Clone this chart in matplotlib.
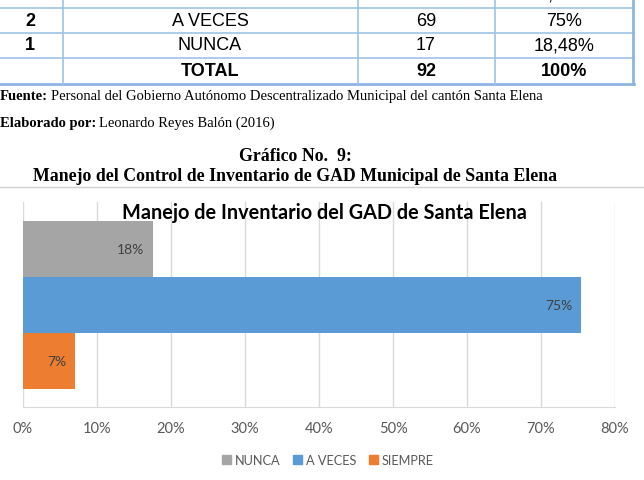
import matplotlib
matplotlib.use("Agg")
import matplotlib.pyplot as plt
from matplotlib.lines import Line2D
import matplotlib.patches as mpatches

W, H = 644, 481

# table (top rows cut off in the screenshot)
row_nums = ["3", "2", "1", ""]
row_cats = ["SIEMPRE", "A VECES", "NUNCA", "TOTAL"]
row_freq = ["6", "69", "17", "92"]
row_pct = ["6,52%", "75%", "18,48%", "100%"]

# chart series
series = ["NUNCA", "A VECES", "SIEMPRE"]
values = [17.5, 75.4, 7.0]
colors = ["#a5a5a5", "#5b9bd5", "#ed7d31"]
xticks = [0, 10, 20, 30, 40, 50, 60, 70, 80]

SANS = "Liberation Sans"
SERIF = "Liberation Serif"
CHART = "Lato"
LINE = "#9dc3e6"


def fx(x):
    return x / W


def fy(y):
    return 1 - y / H


fig = plt.figure(figsize=(W / 100, H / 100), dpi=100)

# --- table ---
row_y = [-5, 21, 46, 72]
col_x = [30, 210, 426, 564]
for i in range(len(row_cats)):
    bold = i == len(row_cats) - 1
    fig.text(fx(col_x[0]), fy(row_y[i]), row_nums[i], ha="center", va="center",
             family=SANS, fontsize=13, fontweight="bold")
    for j, cell in enumerate([row_cats[i], row_freq[i], row_pct[i]]):
        fig.text(fx(col_x[j + 1]), fy(row_y[i]), cell, ha="center", va="center",
                 family=SANS, fontsize=13, fontweight="bold" if bold else "normal")

for y in [9, 34, 59]:
    fig.add_artist(Line2D([fx(0), fx(634)], [fy(y), fy(y)], color=LINE, lw=1.2))
fig.add_artist(Line2D([fx(0), fx(634)], [fy(85), fy(85)], color="#8eb4e3", lw=2))
for x in [63, 358, 495]:
    fig.add_artist(Line2D([fx(x), fx(x)], [fy(0), fy(85)], color=LINE, lw=1.2))
fig.add_artist(Line2D([fx(633), fx(633)], [fy(0), fy(85)], color="#8eb4e3", lw=2))


# --- source lines: bold label followed by regular text ---
def label_line(y, head, rest, size=10.5):
    t = fig.text(fx(0), fy(y), head, ha="left", va="center", family=SERIF,
                 fontsize=size, fontweight="bold")
    fig.canvas.draw()
    bb = t.get_window_extent()
    fig.text(bb.x1 / W + fx(3), fy(y), rest, ha="left", va="center", family=SERIF, fontsize=size)


label_line(97, "Fuente:", "Personal del Gobierno Autónomo Descentralizado Municipal del cantón Santa Elena")
label_line(123, "Elaborado por:", "Leonardo Reyes Balón (2016)")

fig.text(fx(295), fy(157), "Gráfico No.  9:", ha="center", va="center", family=SERIF,
         fontsize=12.8, fontweight="bold")
fig.text(fx(295), fy(177), "Manejo del Control de Inventario de GAD Municipal de Santa Elena",
         ha="center", va="center", family=SERIF, fontsize=12.8, fontweight="bold")

# chart frame top edge
fig.add_artist(Line2D([0, 1], [fy(188), fy(188)], color="#d0d0d0", lw=1))

# --- chart ---
ax = fig.add_axes([fx(23), fy(408), fx(615) - fx(23), fy(203) - fy(408)])
ypos = [1, 0, -1]
for name, v, c, yp in zip(series, values, colors, ypos):
    ax.barh(yp, v, height=1.0, color=c, label=name, zorder=3)
    ax.text(v - 1.2, yp, f"{v:.0f}%", ha="right", va="center", family=CHART,
            fontsize=10, color="#404040", zorder=4)

ax.set_xlim(0, 80)
ax.set_ylim(-1.5 - 18 / 56, 1.5 + 19 / 56)
ax.set_xticks(xticks)
ax.set_xticklabels([f"{t}%" for t in xticks], family=CHART, fontsize=10.5, color="#595959")
ax.set_yticks([])
ax.tick_params(axis="x", length=0, pad=10)
ax.grid(axis="x", color="#d9d9d9", lw=1, zorder=0)
for s in ["top", "right", "left"]:
    ax.spines[s].set_visible(False)
ax.spines["bottom"].set_color("#d9d9d9")

fig.text(fx(324), fy(213), "Manejo de Inventario del GAD de Santa Elena", ha="center", va="center",
         family=CHART, fontsize=14.3, fontweight="bold", color="#000000")

handles = [mpatches.Patch(color=c, label=n) for n, c in zip(series, colors)]
fig.legend(handles=handles, loc="center", bbox_to_anchor=(fx(328), fy(461)), ncol=3, frameon=False,
           prop={"family": CHART, "size": 9.2}, handlelength=0.7, handleheight=0.7,
           handletextpad=0.3, columnspacing=1.0, labelcolor="#595959")

fig.savefig("out.png", dpi=100)
